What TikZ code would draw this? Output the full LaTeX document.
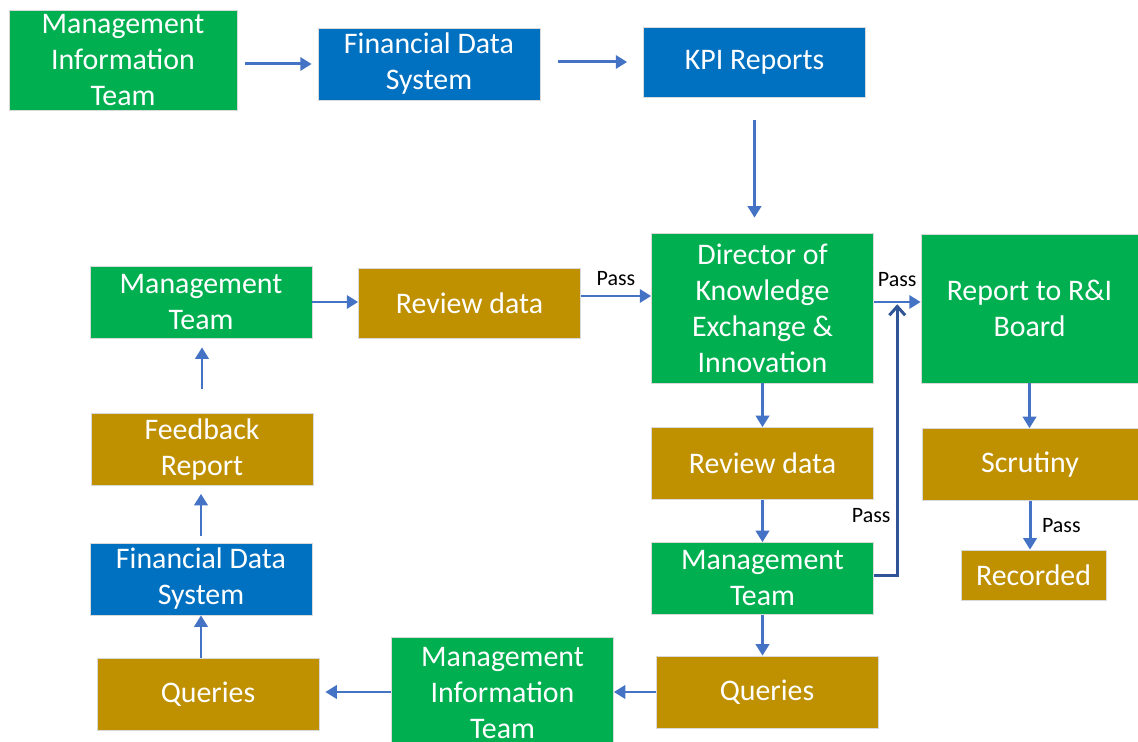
\documentclass[tikz,border=0pt]{standalone}
\usepackage{fontspec}
\setmainfont{Carlito}
\usepackage{tikz}
\usetikzlibrary{positioning,arrows.meta,calc}
\usepackage{xcolor}
\definecolor{teamgreen}{HTML}{00B050}
\definecolor{systemblue}{HTML}{0070C0}
\definecolor{taskgold}{HTML}{BF9000}
\definecolor{flowblue}{HTML}{4472C4}
\definecolor{passblue}{HTML}{2F5597}

\begin{document}
\begin{tikzpicture}[
    x=0.02cm, y=-0.02cm,
    box/.style={rectangle, draw=black!15, line width=0.4pt, text=white, align=center,
        inner sep=0pt, minimum width=4.44cm, minimum height=1.44cm,
        font=\fontsize{17}{20.5}\selectfont},
    team/.style={box, fill=teamgreen},
    system/.style={box, fill=systemblue},
    task/.style={box, fill=taskgold},
    pass label/.style={font=\fontsize{12.5}{15}\selectfont, text=black, inner sep=2pt},
    flow/.style={draw=flowblue, line width=1.7pt, -{Triangle[length=6.5pt,width=7.5pt]}},
    pass flow/.style={draw=passblue, line width=1.7pt, -{Straight Barb[length=5pt,width=9pt]}}
]
\useasboundingbox (0,0) rectangle (1138,742);

% data source chain
\node[team, minimum width=4.56cm, minimum height=2cm] (mit1) at (123,60) {Management\\Information\\Team};
\node[system] (fds1) at (429,64) {Financial Data\\System};
\node[system, minimum height=1.4cm] (kpi) at (754.5,62) {KPI Reports};

% approval column
\node[team, minimum height=3cm] (dir) at (762.5,308) {Director of\\Knowledge\\Exchange \&\\Innovation};
\node[task] (rev2) at (762.5,463.5) {Review data};
\node[team] (mt2) at (762.5,578.5) {Management\\Team};
\node[task] (qry2) at (767,692) {Queries};

% board column
\node[team, minimum width=4.34cm, minimum height=2.98cm] (board) at (1029.5,308.5) {Report to R\&I\\Board};
\node[task, minimum width=4.32cm] (scr) at (1030,464.5) {Scrutiny};
\node[task, minimum width=2.9cm, minimum height=1cm] (rec) at (1033.5,575) {Recorded};

% feedback loop
\node[team, minimum height=2.24cm] (mit2) at (502.5,693) {Management\\Information\\Team};
\node[task] (qry1) at (208,694) {Queries};
\node[system] (fds2) at (201,579) {Financial Data\\System};
\node[task] (fb) at (202,449.5) {Feedback\\Report};
\node[team] (mt1) at (201,302) {Management\\Team};
\node[task, minimum height=1.4cm] (rev1) at (469.5,303) {Review data};

\coordinate (merge) at ($(dir.east)!0.5!(board.west)+(0,-4)$);

\draw[flow, shorten <=0.16cm, shorten >=0.12cm] (mit1.east |- fds1) -- (fds1.west);
\draw[flow, shorten <=0.36cm, shorten >=0.32cm] (fds1.east |- kpi) -- (kpi.west);
\draw[flow, shorten <=0.46cm, shorten >=0.3cm] (kpi.south) -- (kpi.south |- dir.north);

\draw[flow] (mt1.east) -- (mt1.east -| rev1.west);
\draw[flow] ($(rev1.east)+(0,-7)$) -- ($(rev1.east -| dir.west)+(0,-7)$)
    node[pass label, midway, above=3pt] {Pass};
\draw[flow] ($(dir.east)+(0,-6)$) -- ($(dir.east -| board.west)+(0,-6)$)
    node[pass label, midway, above=6pt] {Pass};

\draw[flow] (dir) -- (rev2);
\draw[flow] (rev2) -- (mt2);
\draw[flow] (mt2.south) -- (mt2.south |- qry2.north);
\draw[flow] (qry2) -- (qry2 -| mit2.east);
\draw[flow, shorten >=0.12cm] (mit2.west |- qry2) -- (qry1.east |- qry2);
\draw[flow] (fds2 |- qry1.north) -- (fds2.south);
\draw[flow, shorten <=0.14cm, shorten >=0.16cm] (fds2.north) -- (fds2.north |- fb.south);
\draw[flow, shorten <=0.48cm, shorten >=0.18cm] (fb.north) -- (fb.north |- mt1.south);

\draw[flow] (board) -- (board |- scr.north);
\draw[flow] (scr) -- (scr |- rec.north) node[pass label, midway, right=4pt] {Pass};

\draw[pass flow] ($(mt2.east)+(0,-3)$) -| (merge)
    node[pass label, pos=0.61, left=1pt] {Pass};
\end{tikzpicture}
\end{document}
